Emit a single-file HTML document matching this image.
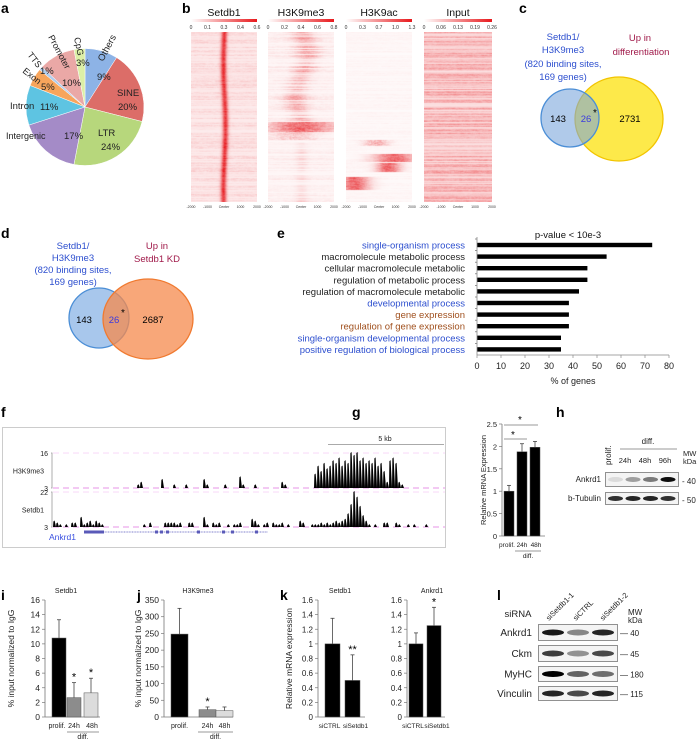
<!DOCTYPE html>
<html><head><meta charset="utf-8">
<style>
html,body{margin:0;padding:0;background:#fff;}
#root{position:relative;width:700px;height:740px;overflow:hidden;font-family:"Liberation Sans",sans-serif;}
svg{position:absolute;left:0;top:0;}
canvas{position:absolute;}
text{font-family:"Liberation Sans",sans-serif;}
.pl{font-weight:bold;font-size:14px;}
</style></head>
<body>
<div id="root">
<canvas id="hm0" width="66" height="170" style="left:191px;top:32px"></canvas>
<canvas id="hm1" width="66" height="170" style="left:268px;top:32px"></canvas>
<canvas id="hm2" width="66" height="170" style="left:346px;top:32px"></canvas>
<canvas id="hm3" width="68" height="170" style="left:424px;top:32px"></canvas>
<svg id="s" width="700" height="740" viewBox="0 0 700 740">
<defs>
<linearGradient id="cb" x1="0" x2="1"><stop offset="0" stop-color="#fff"/><stop offset="1" stop-color="#e8181c"/></linearGradient>
</defs>
<g>
<text class="pl" x="1" y="13">a</text><text class="pl" x="182" y="13">b</text><text class="pl" x="519" y="13">c</text>
<text class="pl" x="1" y="238">d</text><text class="pl" x="277" y="238">e</text><text class="pl" x="1" y="417">f</text>
<text class="pl" x="352" y="417">g</text><text class="pl" x="556" y="417">h</text>
<text class="pl" x="1" y="600">i</text><text class="pl" x="137" y="600">j</text><text class="pl" x="280" y="600">k</text><text class="pl" x="497" y="600">l</text>
</g>
<g id="pie"></g>
<g id="hmaxes" font-size="4.5" fill="#333"></g>
<g font-size="9.5">
<ellipse cx="619" cy="119" rx="44" ry="42" fill="#fde94a" stroke="#f2c400" stroke-width="1.3"/>
<circle cx="570" cy="118" r="29" fill="#7ba7dc" fill-opacity="0.6" stroke="#4b8ed6" stroke-width="1.3"/>
<g fill="#2d4fcf" text-anchor="middle"><text x="563" y="40">Setdb1/</text><text x="563" y="53">H3K9me3</text><text x="563" y="67">(820 binding sites,</text><text x="563" y="80">169 genes)</text></g>
<g fill="#a01a4a" text-anchor="middle"><text x="640" y="41">Up in</text><text x="641" y="55">differentiation</text></g>
<text x="558" y="122" text-anchor="middle">143</text><text x="586" y="122" text-anchor="middle" fill="#3a3adf">26</text>
<text x="595" y="116" text-anchor="middle" font-size="10">*</text><text x="630" y="122" text-anchor="middle">2731</text>
</g>
<g font-size="9.5">
<circle cx="99" cy="318" r="30" fill="#a8c7ec" stroke="#4b8ed6" stroke-width="1.3"/>
<ellipse cx="148" cy="319" rx="45" ry="40" fill="#f58a4c" fill-opacity="0.75" stroke="#f07a30" stroke-width="1.3"/>
<g fill="#2d4fcf" text-anchor="middle"><text x="73" y="249">Setdb1/</text><text x="73" y="261">H3K9me3</text><text x="73" y="273">(820 binding sites,</text><text x="73" y="285">169 genes)</text></g>
<g fill="#a01a4a" text-anchor="middle"><text x="157" y="249">Up in</text><text x="157" y="262">Setdb1 KD</text></g>
<text x="84" y="323" text-anchor="middle">143</text><text x="114" y="323" text-anchor="middle" fill="#3a3adf">26</text>
<text x="123" y="316" text-anchor="middle" font-size="10">*</text><text x="153" y="323" text-anchor="middle">2687</text>
</g>
<g id="gobar"></g>
<g id="track"></g>
<g id="gchart"></g>
<g id="hblot"></g>
<g id="ichart"></g>
<g id="jchart"></g>
<g id="kchart"></g>
<g id="lblot"></g>
</svg>
</div>
<script>
const pieLabels=["Others","SINE","LTR","Intergenic","Intron","Exon","TTS","Promoter","CpG"];
const pieValues=[9,20,24,17,11,5,1,10,3];
const pieColors=["#8db3e6","#dc6d68","#b7d77c","#a48bc7","#5ec4e2","#f7a55c","#b0cdee","#eaa8a6","#dcefa6"];

const goTerms=["single-organism process","macromolecule metabolic process","cellular macromolecule metabolic","regulation of metabolic process","regulation of macromolecule metabolic","developmental process","gene expression","regulation of gene expression","single-organism developmental process","positive regulation of biological process"];
const goValues=[73,54,46,46,42.5,38.3,38.3,38.3,35,35];
const goColors=["#2d4fcf","#222","#222","#222","#222","#2d4fcf","#a0501e","#a0501e","#2d4fcf","#2d4fcf"];
const goTicks=[0,10,20,30,40,50,60,70,80];

const h3Bins=[28,29,36,40,44,50,51,57,62,63,67,76,77,87,88,89,90,91,92,93,94,95,96,97,98,99,100,101,102,103,104,105,106,107,108,109,110,111,112,113,114,115,116];
const h3Vals=[1,2,3,1,1,3,1,1,4,1,1,2,1,5,8,6,9,7,8,10,9,11,8,10,9,13,12,13,10,11,9,10,9,11,8,9,6,2,10,11,9,2,1];
const sdBins=[0,1,2,4,6,7,9,10,11,12,13,14,15,16,30,32,37,38,39,40,41,42,45,46,50,51,53,54,55,58,60,61,62,66,67,68,70,71,73,74,75,76,78,82,83,86,87,88,89,90,91,92,93,94,95,96,97,98,99,100,101,102,103,104,105,107,110,111,114,115,118,120,124];
const sdVals=[3,2,1,1,2,2,5,1,2,3,1,3,2,1,1,2,2,2,2,2,1,2,2,2,5,1,2,1,2,1,1,1,2,4,3,1,1,2,2,1,1,2,1,3,2,1,1,1,2,1,2,1,2,3,2,3,4,7,12,19,16,11,6,3,1,1,2,2,2,1,1,1,1];

const gCats=["prolif.","24h","48h"];
const gValues=[1.0,1.88,1.98];
const gErr=[0.13,0.18,0.13];
const gTicks=[0,0.5,1,1.5,2,2.5];

const iCats=["prolif.","24h","48h"];
const iValues=[10.8,2.65,3.3];
const iErr=[2.5,2.05,2.0];
const iTicks=[0,2,4,6,8,10,12,14,16];

const jCats=["prolif.","24h","48h"];
const jValues=[248,22,19];
const jErr=[77,8,11];
const jTicks=[0,50,100,150,200,250,300,350];

const kCats=["siCTRL","siSetdb1"];
const kSetdb1=[1.0,0.5];
const kSetdb1Err=[0.35,0.35];
const kAnkrd1=[1.0,1.25];
const kAnkrd1Err=[0.15,0.25];
const kTicks=[0,0.2,0.4,0.6,0.8,1,1.2,1.4,1.6];

const NS="http://www.w3.org/2000/svg";
function mk(parent,tag,attrs,txt){const e=document.createElementNS(NS,tag);for(const k in attrs)e.setAttribute(k,attrs[k]);if(txt!==undefined)e.textContent=txt;parent.appendChild(e);return e;}
function $(id){return document.getElementById(id);}

(function(){
 const g=$("pie");const cx=85,cy=107,rx=59,ry=58.5;
 const tot=pieValues.reduce((a,b)=>a+b,0);let a0=-Math.PI/2;
 pieValues.forEach((v,i)=>{
  const a1=a0+v/tot*2*Math.PI;
  const x0=cx+rx*Math.cos(a0),y0=cy+ry*Math.sin(a0),x1=cx+rx*Math.cos(a1),y1=cy+ry*Math.sin(a1);
  const p=mk(g,"path",{d:`M${cx},${cy}L${x0},${y0}A${rx},${ry} 0 ${a1-a0>Math.PI?1:0} 1 ${x1},${y1}Z`,fill:pieColors[i],stroke:"#fff","stroke-width":0.5});
  
  
  a0=a1;
 });
 const L=[["Others",103,62,-62,9.5],["9%",97,80,0,9.5],["SINE",117,96,0,9.5],["20%",118,110,0,9.5],["LTR",98,136,0,9.5],["24%",101,150,0,9.5],
  ["Intergenic",6,139,0,9],["17%",64,139,0,9.5],["Intron",10,109,0,9.5],["11%",40,110,0,9.5],["Exon",22,72,38,9],["5%",41,90,0,9.5],
  ["TTS",27,55,52,9],["1%",40,74,0,9.5],["Promoter",48,37,62,9],["10%",62,86,0,9.5],["CpG",74,38,78,9],["3%",76,66,0,9.5]];
 L.forEach(l=>{const t=mk(g,"text",{x:l[1],y:l[2],"font-size":l[4],fill:"#222",transform:l[3]?`rotate(${l[3]} ${l[1]} ${l[2]})`:""},l[0]);
  });
})();

let seed=12345;function rnd(){seed=(seed*1103515245+12345)%2147483648;return seed/2147483648;}
function drawHM(id,fn){
 const c=$(id),ctx=c.getContext("2d"),W=c.width,H=c.height,img=ctx.createImageData(W,H);
 for(let y=0;y<H;y++){const rb=rnd();let prev=rnd();for(let x=0;x<W;x++){prev=0.6*prev+0.4*rnd();let v=Math.max(0,Math.min(1,fn(x,y,rb,prev,W,H)));
  const k=(y*W+x)*4;img.data[k]=255-v*25;img.data[k+1]=255-v*235;img.data[k+2]=255-v*230;img.data[k+3]=255;}}
 ctx.putImageData(img,0,0);
}
function gauss(d,s){return Math.exp(-d*d/(2*s*s));}
drawHM("hm0",(x,y,rb,p,W)=>0.08+0.2*rb*p+0.85*gauss(x-33+Math.sin(y/20),2.0)*(0.7+0.3*p));
drawHM("hm1",(x,y,rb,p,W)=>{let v=0.03+0.12*rb*p;const c=33+6*Math.sin(y/14);
 if(y<90)v+=0.45*gauss(x-c,5+4*rb)*(0.5+0.5*p)*rb;
 if(y>=90&&y<100)v+=0.75*(0.4+0.6*p)*gauss(x-33,22);
 if(y>=100&&y<108)v+=0.35*gauss(x-25,14)*p;
 if(y>110)v+=0.15*gauss(x-33,4)*rb;return v;});
drawHM("hm2",(x,y,rb,p)=>{let v=0.02+0.06*rb*p;
 if(y>=108&&y<114)v+=0.6*gauss(x-30,8)*p;
 if(y>=122&&y<130)v+=0.8*gauss(x-48,14)*(0.5+0.5*p);
 if(y>=131&&y<140)v+=0.8*gauss(x-42,8)*(0.5+0.5*p);
 if(y>=145&&y<158)v+=0.8*gauss(x-8,10)*(0.5+0.5*p);return v;});
drawHM("hm3",(x,y,rb,p)=>0.12+0.45*rb*(0.3+0.7*p));
(function(){
 const g=$("hmaxes");
 const maps=[["Setdb1",191,66,["0","0.1","0.3","0.4","0.6"]],["H3K9me3",268,66,["0","0.2","0.4","0.6","0.8"]],["H3K9ac",346,66,["0","0.3","0.7","1.0","1.3"]],["Input",424,68,["0","0.06","0.13","0.19","0.26"]]];
 maps.forEach(m=>{
  const t=mk(g,"text",{x:m[1]+m[2]/2,y:16,"font-size":10.5,"text-anchor":"middle",fill:"#111"},m[0]);
  
  const r=mk(g,"rect",{x:m[1],y:19,width:m[2],height:3,fill:"url(#cb)"});
  
  m[3].forEach((s,i)=>mk(g,"text",{x:m[1]+i*m[2]/4,y:29,"font-size":5,"text-anchor":"middle"},s));
  ["-2000","-1000","Center","1000","2000"].forEach((s,i)=>mk(g,"text",{x:m[1]+i*m[2]/4,y:208,"font-size":3.5,"text-anchor":"middle"},s));
 });
})();

(function(){
 const g=$("gobar");const x0=477,sc=192/80,y0=245,step=11.6;
 const xs=v=>x0+v*sc;
 mk(g,"text",{x:568,y:238,"font-size":9.5,"text-anchor":"middle",fill:"#111"},"p-value < 10e-3");
 goTerms.forEach((t,i)=>{
  const y=y0+i*step;
  const tx=mk(g,"text",{x:465,y:y+3.5,"font-size":9.5,"text-anchor":"end",fill:goColors[i]},t);
  
  const b=mk(g,"rect",{x:x0,y:y-2.2,width:xs(goValues[i])-x0,height:4.4,fill:"#000"});
  
  mk(g,"line",{x1:x0-2,x2:x0,y1:y-6,y2:y-6,stroke:"#666","stroke-width":0.7});
 });
 mk(g,"line",{x1:x0,x2:x0,y1:237,y2:355,stroke:"#888","stroke-width":0.8});
 mk(g,"line",{x1:x0,x2:xs(80),y1:355,y2:355,stroke:"#888","stroke-width":0.8});
 goTicks.forEach(v=>{mk(g,"line",{x1:xs(v),x2:xs(v),y1:355,y2:358,stroke:"#888","stroke-width":0.7});
  mk(g,"text",{x:xs(v),y:369,"font-size":9,"text-anchor":"middle",fill:"#222"},String(v));});
 mk(g,"text",{x:573,y:384,"font-size":9,"text-anchor":"middle",fill:"#222"},"% of genes");
})();

(function(){
 const g=$("track");
 const box=mk(g,"rect",{x:2.5,y:427.5,width:443,height:120,fill:"#fff",stroke:"#ccc","stroke-width":1});
 
 mk(g,"line",{x1:328,x2:444,y1:444.5,y2:444.5,stroke:"#aaa","stroke-width":1});
 mk(g,"text",{x:385,y:441,"font-size":7,"text-anchor":"middle",fill:"#222"},"5 kb");
 const x0=53,bw=3;
 function tr(bins,vals,base,top,max,label,lab){
  mk(g,"line",{x1:x0,x2:445,y1:base,y2:base,stroke:"#e070e0","stroke-width":0.7,"stroke-dasharray":"6 4"});
  mk(g,"line",{x1:x0,x2:445,y1:top,y2:top,stroke:"#f0b0f0","stroke-width":0.5,"stroke-dasharray":"6 4"});
  mk(g,"path",{d:`M51,${top}H52V${base}H51`,fill:"none",stroke:"#999","stroke-width":0.8});
  mk(g,"text",{x:48,y:top+3,"font-size":7,"text-anchor":"end",fill:"#222"},String(max+3));
  mk(g,"text",{x:48,y:base+3,"font-size":7,"text-anchor":"end",fill:"#222"},"3");
  mk(g,"text",{x:44,y:(top+base)/2+3,"font-size":7,"text-anchor":"end",fill:"#222"},label);
  let d="";const h=base-top;
  bins.forEach((b,i)=>{const x=x0+b*bw;const y=base-vals[i]/max*h;d+=`M${x},${base}L${x+0.4},${y}L${x+1.6},${y-1}L${x+bw},${base}Z`;});
  const p=mk(g,"path",{d:d,fill:"#000"});
  
 }
 tr(h3Bins,h3Vals,488,453,13,"H3K9me3","h3k9me3-signal");
 tr(sdBins,sdVals,527,492,19,"Setdb1","setdb1-signal");
 mk(g,"line",{x1:84,x2:268,y1:532,y2:532,stroke:"#9a9ad8","stroke-width":1.2,"stroke-dasharray":"1 0.6"});
 mk(g,"rect",{x:84,y:530.5,width:20,height:3,fill:"#5a5ab8"});
 [155,160,166,197,222,231,255].forEach(x=>mk(g,"rect",{x:x,y:530.5,width:3,height:3,fill:"#5a5ab8"}));
 mk(g,"text",{x:49,y:540,"font-size":8.5,fill:"#3a50e0"},"Ankrd1");
})();

function barChart(g,o){
 const ys=v=>o.y0-(v/o.max)*(o.y0-o.yTop);
 mk(g,"line",{x1:o.ax,x2:o.ax,y1:o.yTop,y2:o.y0,stroke:"#777","stroke-width":0.8});
 mk(g,"line",{x1:o.ax,x2:o.axEnd,y1:o.y0,y2:o.y0,stroke:"#777","stroke-width":0.8});
 o.ticks.forEach(t=>{mk(g,"line",{x1:o.ax-3,x2:o.ax,y1:ys(t),y2:ys(t),stroke:"#777","stroke-width":0.7});
  mk(g,"text",{x:o.ax-5,y:ys(t)+3,"font-size":o.fs,"text-anchor":"end",fill:"#222"},String(t));});
 o.vals.forEach((v,i)=>{
  const x=o.bx[i],w=o.bw;
  mk(g,"line",{x1:x+w/2,x2:x+w/2,y1:ys(v),y2:ys(v+o.err[i]),stroke:"#444","stroke-width":0.8});
  mk(g,"line",{x1:x+w/2-2,x2:x+w/2+2,y1:ys(v+o.err[i]),y2:ys(v+o.err[i]),stroke:"#444","stroke-width":0.8});
  const r=mk(g,"rect",{x:x,y:ys(v),width:w,height:o.y0-ys(v),fill:o.fills[i],stroke:"#555","stroke-width":0.5});
  
  
  mk(g,"text",{x:x+w/2+(o.cdx?o.cdx[i]:0),y:o.y0+11,"font-size":o.cfs,"text-anchor":"middle",fill:"#222"},o.cats[i]);
  if(o.stars&&o.stars[i])mk(g,"text",{x:x+w/2,y:ys(v+o.err[i])-2,"font-size":11,"text-anchor":"middle",fill:"#000"},o.stars[i]);
 });
 if(o.title)mk(g,"text",{x:o.tx,y:o.ty,"font-size":7,"text-anchor":"middle",fill:"#222"},o.title);
 if(o.ytitle)mk(g,"text",{x:o.ytx,y:(o.yTop+o.y0)/2,"font-size":o.yfs||9,"text-anchor":"middle",fill:"#222",transform:`rotate(-90 ${o.ytx} ${(o.yTop+o.y0)/2})`},o.ytitle);
 if(o.diff){mk(g,"line",{x1:o.diff[0],x2:o.diff[1],y1:o.y0+15,y2:o.y0+15,stroke:"#777","stroke-width":0.7});
  mk(g,"text",{x:(o.diff[0]+o.diff[1])/2,y:o.y0+22,"font-size":o.cfs,"text-anchor":"middle",fill:"#222"},"diff.");}
 return ys;
}
(function(){
 const g=$("gchart");
 barChart(g,{ax:502,axEnd:545,yTop:424,y0:536,max:2.5,ticks:gTicks,fs:7.5,cfs:6.5,cdx:[-2,0,1],vals:gValues,err:gErr,bx:[504,517,530],bw:10,fills:["#000","#000","#000"],cats:gCats,ytitle:"Relative mRNA Expression",ytx:486,yfs:7.5,diff:[515,541]});
 mk(g,"line",{x1:504,x2:527,y1:439,y2:439,stroke:"#777","stroke-width":0.7});
 mk(g,"text",{x:513,y:438,"font-size":10,"text-anchor":"middle"},"*");
 mk(g,"line",{x1:504,x2:538,y1:425,y2:425,stroke:"#777","stroke-width":0.7});
 mk(g,"text",{x:520,y:423,"font-size":10,"text-anchor":"middle"},"*");
})();
barChart($("ichart"),{ax:45,axEnd:100,yTop:600,y0:717,max:16,ticks:iTicks,fs:8.5,cfs:7,cdx:[-2,0,1],vals:iValues,err:iErr,bx:[52,67,84],bw:14,fills:["#000","#8c8c8c","#dcdcdc"],cats:iCats,stars:["","*","*"],title:"Setdb1",tx:66,ty:593,ytitle:"% input normalized to IgG",ytx:14,yfs:8.5,diff:[67,99]});
barChart($("jchart"),{ax:164,axEnd:233,yTop:600,y0:717,max:350,ticks:jTicks,fs:8.5,cfs:7,vals:jValues,err:jErr,bx:[171,199,216],bw:17,fills:["#000","#8c8c8c","#dcdcdc"],cats:jCats,stars:["","*",""],title:"H3K9me3",tx:198,ty:593,ytitle:"% input normalized to IgG",ytx:141,yfs:8.5,diff:[198,233]});
barChart($("kchart"),{ax:318,axEnd:365,yTop:600,y0:717,max:1.6,ticks:kTicks,fs:8,cfs:6.5,cdx:[-3,3],vals:kSetdb1,err:kSetdb1Err,bx:[325,345],bw:15,fills:["#000","#000"],cats:kCats,stars:["","**"],title:"Setdb1",tx:340,ty:593,ytitle:"Relative mRNA expression",ytx:292,yfs:8.5});
barChart($("kchart"),{ax:407,axEnd:445,yTop:600,y0:717,max:1.6,ticks:kTicks,fs:8,cfs:6.5,cdx:[-3,3],vals:kAnkrd1,err:kAnkrd1Err,bx:[409,427],bw:14,fills:["#000","#000"],cats:kCats,stars:["","*"],title:"Ankrd1",tx:432,ty:593});

function band(g,x,y,w,h,dark){mk(g,"ellipse",{cx:x+w/2,cy:y+h/2,rx:w/2,ry:h/2,fill:`rgba(0,0,0,${dark})`});}
(function(){
 const g=$("hblot");
 mk(g,"text",{x:611,y:465,"font-size":8,transform:"rotate(-90 611 465)",fill:"#222"},"prolif.");
 mk(g,"text",{x:648,y:444,"font-size":8,"text-anchor":"middle",fill:"#222"},"diff.");
 mk(g,"line",{x1:620,x2:677,y1:449,y2:449,stroke:"#777","stroke-width":0.7});
 ["24h","48h","96h"].forEach((s,i)=>mk(g,"text",{x:625+i*20,y:463,"font-size":7.5,"text-anchor":"middle",fill:"#222"},s));
 mk(g,"text",{x:683,y:456,"font-size":7.5,fill:"#222"},"MW");mk(g,"text",{x:683,y:464,"font-size":7.5,fill:"#222"},"kDa");
 const rows=[["Ankrd1",472,14,[0.1,0.35,0.5,0.95],"40"],["b-Tubulin",492,12,[0.8,0.85,0.85,0.8],"50"]];
 rows.forEach(r=>{
  const rc=mk(g,"rect",{x:605.5,y:r[1]+0.5,width:73,height:r[2],fill:"#f4f4f4",stroke:"#777","stroke-width":0.8});
  
  r[3].forEach((d,i)=>band(g,608+i*17.5,r[1]+r[2]/2-2,15,5,d));
  mk(g,"text",{x:601,y:r[1]+r[2]/2+3,"font-size":8,"text-anchor":"end",fill:"#222"},r[0]);
  mk(g,"text",{x:682,y:r[1]+r[2]/2+5,"font-size":8,fill:"#222"},"- "+r[4]);
 });
})();
(function(){
 const g=$("lblot");
 mk(g,"text",{x:518,y:617,"font-size":9.5,"text-anchor":"middle",fill:"#222"},"siRNA");
 ["siSetdb1-1","siCTRL","siSetdb1-2"].forEach((s,i)=>mk(g,"text",{x:549+i*27,y:621,"font-size":7.5,fill:"#222",transform:`rotate(-45 ${549+i*27} 621)`},s));
 mk(g,"text",{x:628,y:615,"font-size":8,fill:"#222"},"MW");mk(g,"text",{x:628,y:623,"font-size":8,fill:"#222"},"kDa");
 const rows=[["Ankrd1",624,16,[0.9,0.45,0.85],"40"],["Ckm",645,16,[0.75,0.4,0.7],"45"],["MyHC",666,15,[1,0.6,0.55],"180"],["Vinculin",686,14,[0.85,0.7,0.85],"115"]];
 rows.forEach(r=>{
  const rc=mk(g,"rect",{x:538.5,y:r[1]+0.5,width:79,height:r[2],fill:"#f4f4f4",stroke:"#777","stroke-width":0.8});
  
  r[3].forEach((d,i)=>band(g,542+i*25,r[1]+r[2]/2-2.5,22,6,d));
  mk(g,"text",{x:532,y:r[1]+r[2]/2+4,"font-size":10,"text-anchor":"end",fill:"#222"},r[0]);
  mk(g,"text",{x:620,y:r[1]+r[2]/2+4,"font-size":8,fill:"#222"},"— "+r[4]);
 });
})();
</script>
</body></html>
